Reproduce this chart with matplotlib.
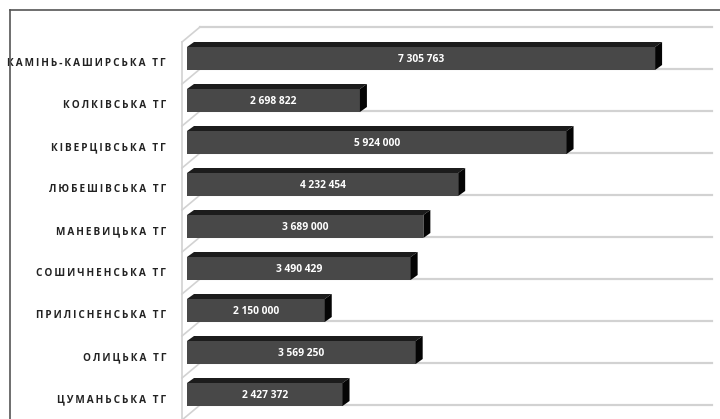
"""
Горизонтальна 3D-подібна стовпчикова діаграма по громадах
"""
import matplotlib
matplotlib.use("Agg")
import matplotlib.pyplot as plt
from matplotlib.patches import Polygon, Rectangle
from matplotlib.lines import Line2D

plt.rcParams['font.family'] = ['Open Sans', 'DejaVu Sans']

# дані
communities = ["КАМІНЬ-КАШИРСЬКА ТГ", "КОЛКІВСЬКА ТГ", "КІВЕРЦІВСЬКА ТГ",
               "ЛЮБЕШІВСЬКА ТГ", "МАНЕВИЦЬКА ТГ", "СОШИЧНЕНСЬКА ТГ",
               "ПРИЛІСНЕНСЬКА ТГ", "ОЛИЦЬКА ТГ", "ЦУМАНЬСЬКА ТГ"]
values = [7305763, 2698822, 5924000, 4232454, 3689000,
          3490429, 2150000, 3569250, 2427372]

W, H = 720, 419
PX = 64.07e-6          # пікселів на одиницю значення
X0 = 187               # піксель нуля по осі x
ROW = 42               # крок рядків, px
Y0 = 58.5              # центр першого рядка, px


def fmt(v):
    return f"{v:,}".replace(",", " ")


def spaced(s):
    return "\u2009".join(s)


fig = plt.figure(figsize=(W / 100, H / 100), dpi=100)
ax = fig.add_axes([0, 0, 1, 1])
ax.set_xlim(-X0 / PX, (W - X0) / PX)
ax.set_ylim((H - Y0) / ROW, -Y0 / ROW)
ax.axis('off')

# перехід пікселів у одиниці даних
dxv = lambda px: px / PX
dyv = lambda px: px / ROW

# стінки та лінії сітки
grid_c = '#d2d2d2'
wall_x_front = dxv(-5)
wall_x_back = dxv(13)
grid_end = dxv(525)
n = len(values)
for k in range(n + 1):
    yb = k - 0.5 - dyv(10.5)
    ax.plot([wall_x_back, grid_end], [yb, yb], color=grid_c, lw=1.6, zorder=1)
    ax.plot([wall_x_front, wall_x_back], [yb + dyv(15), yb], color=grid_c, lw=1.2, zorder=1)
ax.plot([wall_x_front, wall_x_front], [-0.5 - dyv(10.5) + dyv(15), n + 1],
        color=grid_c, lw=1.2, zorder=1)

# стовпчики
h = dyv(11.5)
ddx, ddy = dxv(7), dyv(5)
for i, (name, v) in enumerate(zip(communities, values)):
    ax.add_patch(Rectangle((0, i - h), v, 2 * h, facecolor='#484848',
                           edgecolor='none', zorder=3))
    ax.add_patch(Polygon([(0, i - h), (v, i - h), (v + ddx, i - h - ddy),
                          (ddx, i - h - ddy)], closed=True,
                         facecolor='#1c1c1c', edgecolor='none', zorder=3))
    ax.add_patch(Polygon([(v, i - h), (v + ddx, i - h - ddy),
                          (v + ddx, i + h - ddy), (v, i + h)], closed=True,
                         facecolor='#050505', edgecolor='none', zorder=3))
    ax.text(v / 2, i + 0.03, fmt(v), color='white', fontsize=7.4,
            fontweight='bold', ha='center', va='center', zorder=4)
    ax.text(dxv(-21), i + 0.12, spaced(name), color='#222222', fontsize=7.2,
            fontweight='bold', ha='right', va='center')

# рамка
fig.add_artist(Line2D([10 / W, 1], [1 - 10 / H, 1 - 10 / H],
                      transform=fig.transFigure, color='#555555', lw=1.2))
fig.add_artist(Line2D([10 / W, 10 / W], [0, 1 - 10 / H],
                      transform=fig.transFigure, color='#555555', lw=1.2))

fig.savefig('out.png', dpi=100, facecolor='white')
